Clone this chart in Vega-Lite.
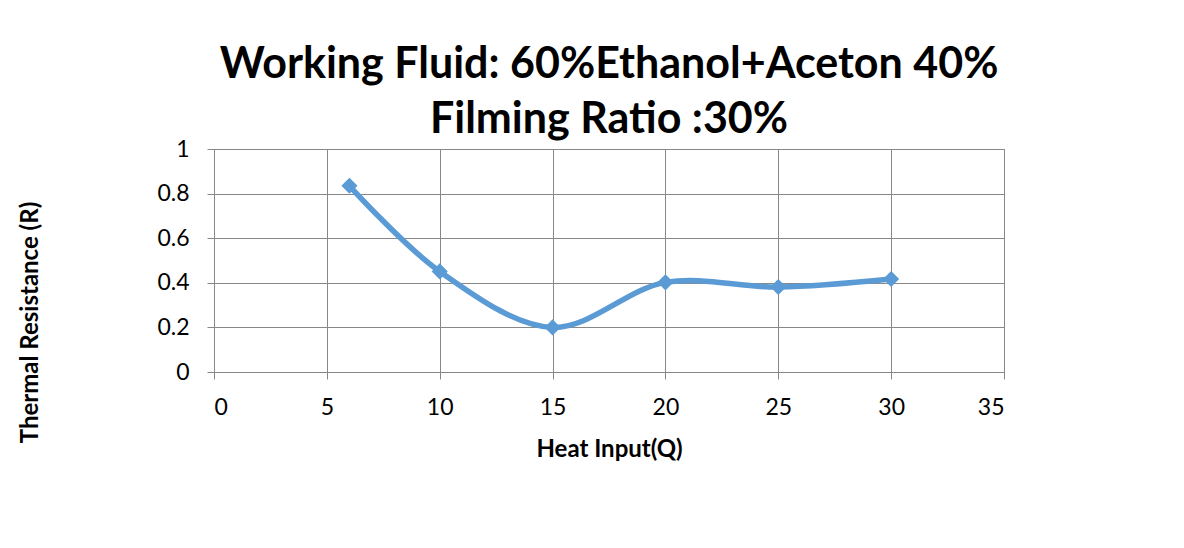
{
  "$schema": "https://vega.github.io/schema/vega-lite/v6.json",
  "width": 790,
  "height": 223,
  "autosize": "none",
  "padding": {"left": 214, "top": 149, "right": 180, "bottom": 176},
  "background": "white",
  "title": {
    "text": ["Working Fluid: 60%Ethanol+Aceton 40%", "Filming Ratio :30%"],
    "font": "Lato",
    "fontSize": 43,
    "fontWeight": "bold",
    "color": "black",
    "anchor": "middle",
    "lineHeight": 55,
    "offset": -4
  },
  "data": {
    "values": [
      {"Q": 6, "R": 0.835},
      {"Q": 10, "R": 0.451},
      {"Q": 15, "R": 0.2},
      {"Q": 20, "R": 0.402},
      {"Q": 25, "R": 0.381},
      {"Q": 30, "R": 0.417}
    ]
  },
  "config": {
    "view": {"stroke": "#888888", "strokeWidth": 1},
    "axis": {
      "labelFont": "Lato",
      "labelFontSize": 23,
      "labelColor": "black",
      "titleFont": "Lato",
      "titleFontSize": 24,
      "titleFontWeight": "bold",
      "titleColor": "black",
      "gridColor": "#888888",
      "gridOpacity": 1,
      "gridWidth": 1,
      "domainColor": "#888888",
      "tickColor": "#888888",
      "tickSize": 7
    }
  },
  "layer": [
    {
      "mark": {"type": "line", "interpolate": "catmull-rom", "color": "#5B9BD5", "strokeWidth": 5.5},
      "encoding": {
        "x": {
          "field": "Q", "type": "quantitative",
          "scale": {"domain": [0, 35], "nice": false},
          "axis": {"values": [0, 5, 10, 15, 20, 25, 30, 35], "title": "Heat Input(Q)", "labelPadding": 17, "titlePadding": 18}
        },
        "y": {
          "field": "R", "type": "quantitative",
          "scale": {"domain": [0, 1], "nice": false},
          "axis": {"values": [0, 0.2, 0.4, 0.6, 0.8, 1], "format": "~g", "title": "Thermal Resistance (R)", "labelPadding": 18, "titleX": -172, "titleY": 173}
        }
      }
    },
    {
      "mark": {"type": "point", "shape": "diamond", "filled": true, "color": "#5B9BD5", "size": 260, "opacity": 1},
      "encoding": {
        "x": {"field": "Q", "type": "quantitative"},
        "y": {"field": "R", "type": "quantitative"}
      }
    }
  ]
}
